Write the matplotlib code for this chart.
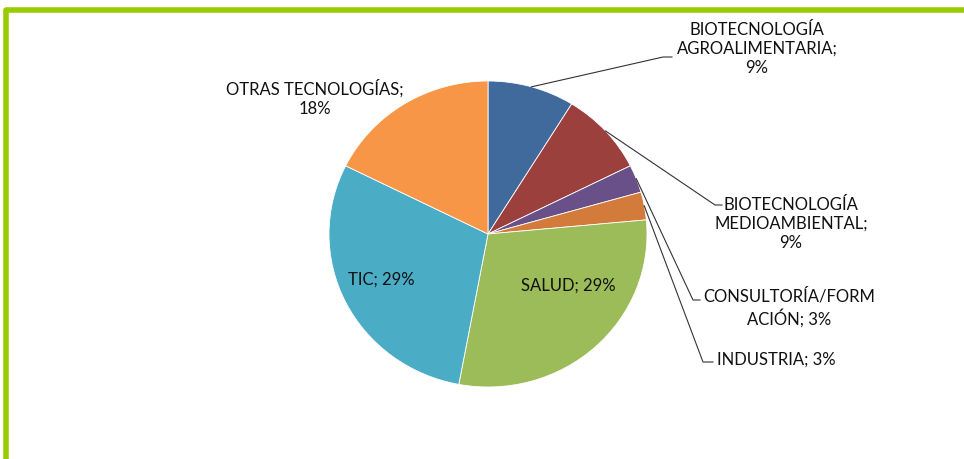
import numpy as np
import matplotlib.pyplot as plt

plt.rcParams['font.family'] = ['Lato', 'DejaVu Sans']

# data (counts read back from the percentages shown)
cats = ["BIOTECNOLOGÍA\nAGROALIMENTARIA;", "BIOTECNOLOGÍA\nMEDIOAMBIENTAL;",
        "CONSULTORÍA/FORM\nACIÓN;", "INDUSTRIA;", "SALUD;", "TIC;", "OTRAS TECNOLOGÍAS;"]
counts = [3, 3, 1, 1, 10, 10, 6]
sep = ["\n", "\n", " ", " ", " ", " ", "\n"]
colors = ["#3F6A9B", "#9C403E", "#6A5088", "#D27B3A", "#9CBB59", "#4BACC6", "#F79646"]

W, H = 964, 459
fig = plt.figure(figsize=(W / 100, H / 100), dpi=100)

# pie (slightly wider than tall, like the original)
cx, cy, rx, ry = 488, 234, 159, 153
ax = fig.add_axes([(cx - rx) / W, (H - cy - ry) / H, 2 * rx / W, 2 * ry / H])
wedges, _ = ax.pie(counts, colors=colors, startangle=90, counterclock=False,
                   wedgeprops=dict(edgecolor="white", linewidth=0.6))
ax.set_aspect("auto")
ax.set_xlim(-1, 1)
ax.set_ylim(-1, 1)
ax.axis("off")

# overlay in image pixels for labels, leaders and frame
ov = fig.add_axes([0, 0, 1, 1])
ov.set_xlim(0, W)
ov.set_ylim(H, 0)
ov.axis("off")

pct = [100 * c / sum(counts) for c in counts]
labels = [f"{n}{s}{p:.0f}%" for n, s, p in zip(cats, sep, pct)]

# label anchor (text centre) and leader elbow for each slice; None = no leader
lab_pos = [(757, 49), (791, 224), (789, 308), (776, 360), (568, 286), (381, 280), (315, 98)]
elbows = [(663, 57), (715, 205), (693, 300), (703, 362), None, None, None]
tick = [9, 7, 7, 10]

fs = 12
for i, w in enumerate(wedges):
    x, y = lab_pos[i]
    ov.text(x, y, labels[i], ha="center", va="center", fontsize=fs,
            color="#111111", linespacing=1.25)
    if elbows[i] is not None:
        mid = np.deg2rad((w.theta1 + w.theta2) / 2)
        p = ax.transData.transform((np.cos(mid), np.sin(mid)))
        px, py = ov.transData.inverted().transform(p)
        ex, ey = elbows[i]
        ov.plot([px, ex, ex + tick[i]], [py, ey, ey], color="#333333", lw=0.8)

# green frame
ov.plot([6, 6, W], [H, 9.5, 9.5], color="#99CC00", lw=4, solid_capstyle="butt")

plt.savefig("out.png", dpi=100)
